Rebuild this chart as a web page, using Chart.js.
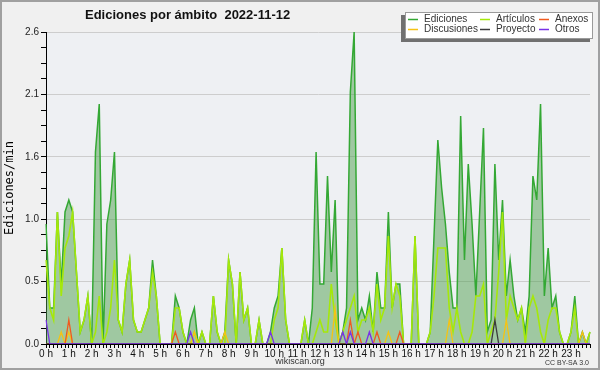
<!DOCTYPE html>
<html>
<head>
<meta charset="utf-8">
<script src="https://cdn.jsdelivr.net/npm/chart.js@4.4.1/dist/chart.umd.min.js"></script>
<style>
  html, body { margin: 0; padding: 0; background: #f0f0f0; }
  canvas { display: block; }
</style>
</head>
<body>
<canvas id="editsChart" width="600" height="370"></canvas>
<script>
// one value every 10 minutes, edits per minute
const hourLabels = ['0 h', '1 h', '2 h', '3 h', '4 h', '5 h', '6 h', '7 h', '8 h', '9 h', '10 h', '11 h',
    '12 h', '13 h', '14 h', '15 h', '16 h', '17 h', '18 h', '19 h', '20 h', '21 h', '22 h', '23 h'];

const ediciones = [
    1.0, 0.3, 0.3, 1.1, 0.5, 1.1,   1.2, 1.1, 0.6, 0.1, 0.2, 0.4,
    0.0, 1.6, 2.0, 0.0, 1.0, 1.2,   1.6, 0.2, 0.1, 0.5, 0.7, 0.2,
    0.1, 0.1, 0.2, 0.3, 0.7, 0.4,   0.0, 0.0, 0.0, 0.0, 0.4, 0.3,
    0.1, 0.0, 0.2, 0.3, 0.0, 0.1,   0.0, 0.0, 0.4, 0.1, 0.0, 0.1,
    0.7, 0.5, 0.0, 0.6, 0.2, 0.3,   0.0, 0.0, 0.2, 0.0, 0.0, 0.1,
    0.3, 0.4, 0.8, 0.2, 0.0, 0.0,   0.0, 0.0, 0.2, 0.0, 0.3, 1.6,
    0.5, 0.5, 1.4, 0.6, 1.2, 0.0,   0.1, 0.3, 2.1, 2.6, 0.2, 0.3,
    0.2, 0.4, 0.1, 0.6, 0.3, 0.3,   1.1, 0.3, 0.5, 0.5, 0.0, 0.0,
    0.0, 0.9, 0.0, 0.0, 0.0, 0.1,   0.9, 1.7, 1.3, 1.0, 0.6, 0.3,
    0.3, 1.9, 0.7, 1.5, 1.0, 0.4,   1.1, 1.8, 0.1, 0.2, 1.5, 0.7,
    1.2, 0.4, 0.7, 0.4, 0.2, 0.3,   0.1, 0.4, 1.4, 1.2, 2.0, 0.4,
    0.8, 0.3, 0.4, 0.1, 0.0, 0.0,   0.1, 0.4, 0.0, 0.1, 0.0, 0.1
];
const articulos = [
    0.7, 0.3, 0.2, 1.1, 0.4, 0.8,   0.9, 1.1, 0.6, 0.1, 0.2, 0.4,
    0.0, 0.1, 0.4, 0.0, 0.1, 0.3,   0.7, 0.2, 0.1, 0.5, 0.7, 0.2,
    0.1, 0.1, 0.2, 0.3, 0.6, 0.4,   0.0, 0.0, 0.0, 0.0, 0.3, 0.3,
    0.1, 0.0, 0.0, 0.1, 0.0, 0.1,   0.0, 0.0, 0.4, 0.1, 0.0, 0.0,
    0.7, 0.5, 0.0, 0.6, 0.2, 0.3,   0.0, 0.0, 0.2, 0.0, 0.0, 0.0,
    0.2, 0.3, 0.8, 0.2, 0.0, 0.0,   0.0, 0.0, 0.2, 0.0, 0.0, 0.1,
    0.2, 0.1, 0.1, 0.5, 0.2, 0.0,   0.1, 0.2, 0.3, 0.4, 0.1, 0.2,
    0.2, 0.3, 0.1, 0.5, 0.2, 0.3,   0.9, 0.3, 0.5, 0.4, 0.0, 0.0,
    0.0, 0.9, 0.0, 0.0, 0.0, 0.1,   0.4, 0.8, 0.8, 0.8, 0.3, 0.1,
    0.3, 0.1, 0.0, 0.0, 0.1, 0.4,   0.4, 0.5, 0.0, 0.1, 0.2, 0.6,
    1.1, 0.2, 0.4, 0.3, 0.2, 0.3,   0.0, 0.3, 0.4, 0.3, 0.1, 0.0,
    0.2, 0.3, 0.3, 0.1, 0.0, 0.0,   0.1, 0.3, 0.0, 0.0, 0.0, 0.1
];
const anexos = [
    0, 0, 0, 0, 0, 0,   0.2, 0, 0, 0, 0, 0,
    0, 0, 0, 0, 0, 0,   0, 0, 0, 0, 0, 0,
    0, 0, 0, 0, 0, 0,   0, 0, 0, 0, 0.1, 0,
    0, 0, 0, 0, 0, 0,   0, 0, 0, 0, 0, 0,
    0, 0, 0, 0, 0, 0,   0, 0, 0, 0, 0, 0,
    0, 0, 0, 0, 0, 0,   0, 0, 0, 0, 0, 0,
    0, 0, 0, 0, 0, 0,   0, 0, 0.2, 0, 0.1, 0,
    0, 0, 0, 0.1, 0, 0,   0, 0, 0, 0.1, 0, 0,
    0, 0, 0, 0, 0, 0,   0, 0, 0, 0, 0, 0,
    0, 0, 0, 0, 0, 0,   0, 0, 0, 0, 0, 0,
    0, 0, 0, 0, 0, 0,   0, 0, 0, 0, 0, 0,
    0, 0, 0, 0, 0, 0,   0, 0, 0, 0, 0, 0
];
const discusiones = [
    0, 0, 0, 0, 0.1, 0,   0.1, 0, 0, 0, 0, 0,
    0, 0, 0, 0, 0, 0,   0, 0, 0, 0, 0, 0,
    0, 0, 0, 0, 0, 0,   0, 0, 0, 0, 0, 0,
    0, 0, 0, 0.1, 0, 0,   0, 0, 0, 0, 0, 0.1,
    0, 0, 0, 0, 0, 0,   0, 0, 0, 0, 0, 0,
    0, 0, 0, 0, 0, 0,   0, 0, 0, 0, 0, 0,
    0, 0, 0, 0, 0.3, 0,   0, 0, 0, 0, 0, 0,
    0, 0, 0, 0, 0, 0,   0.1, 0, 0, 0, 0, 0,
    0, 0, 0, 0, 0, 0,   0, 0, 0, 0, 0.2, 0,
    0, 0, 0, 0, 0, 0,   0, 0, 0, 0, 0, 0,
    0, 0.2, 0, 0, 0, 0,   0, 0, 0, 0, 0, 0,
    0, 0, 0, 0, 0, 0,   0, 0, 0, 0.1, 0, 0
];
const proyecto = [
    0, 0, 0, 0, 0, 0,   0, 0, 0, 0, 0, 0,
    0, 0, 0, 0, 0, 0,   0, 0, 0, 0, 0, 0,
    0, 0, 0, 0, 0, 0,   0, 0, 0, 0, 0, 0,
    0, 0, 0, 0, 0, 0,   0, 0, 0, 0, 0, 0,
    0, 0, 0, 0, 0, 0,   0, 0, 0, 0, 0, 0,
    0, 0, 0, 0, 0, 0,   0, 0, 0, 0, 0, 0,
    0, 0, 0, 0, 0, 0,   0, 0, 0, 0, 0, 0,
    0, 0, 0, 0, 0, 0,   0, 0, 0, 0, 0, 0,
    0, 0, 0, 0, 0, 0,   0, 0, 0, 0, 0, 0,
    0, 0, 0, 0, 0, 0,   0, 0, 0, 0, 0.2, 0,
    0, 0, 0, 0, 0, 0,   0, 0, 0, 0, 0, 0,
    0, 0, 0, 0, 0, 0,   0, 0, 0, 0, 0, 0
];
const otros = [
    0.2, 0, 0, 0, 0, 0,   0, 0, 0, 0, 0, 0,
    0, 0, 0, 0, 0, 0,   0, 0, 0, 0, 0, 0,
    0, 0, 0, 0, 0, 0,   0, 0, 0, 0, 0, 0,
    0, 0, 0.1, 0, 0, 0,   0, 0, 0, 0, 0, 0,
    0, 0, 0, 0, 0, 0,   0, 0, 0, 0, 0, 0.1,
    0, 0, 0, 0, 0, 0,   0, 0, 0, 0, 0, 0,
    0, 0, 0, 0, 0, 0,   0.1, 0, 0.1, 0, 0, 0,
    0, 0.1, 0, 0, 0, 0,   0, 0, 0, 0, 0, 0,
    0, 0, 0, 0, 0, 0,   0, 0, 0, 0, 0, 0,
    0, 0, 0, 0, 0, 0,   0, 0, 0, 0, 0, 0,
    0, 0, 0, 0, 0, 0,   0, 0, 0, 0, 0, 0,
    0, 0, 0, 0, 0, 0,   0, 0, 0, 0, 0, 0
];

// one slot every 10 minutes, labelled on the hour
var slots = ediciones.map((v, i) => i % 6 === 0 ? hourLabels[i / 6] : '');

var sans = 'Liberation Sans, Arial, sans-serif';

var colors = {
    ediciones: 'rgb(52, 168, 52)',
    articulos: 'rgb(165, 232, 10)',
    anexos: 'rgb(240, 90, 30)',
    discusiones: 'rgb(245, 195, 20)',
    proyecto: 'rgb(60, 60, 60)',
    otros: 'rgb(120, 50, 230)',
};

// legend keys in reference order (3 columns, 2 rows)
var legendKeys = [
    ['Ediciones', colors.ediciones], ['Artículos', colors.articulos], ['Anexos', colors.anexos],
    ['Discusiones', colors.discusiones], ['Proyecto', colors.proyecto], ['Otros', colors.otros],
];

// background, title, custom legend, footer and frame
var decor = {
    id: 'decor',
    beforeDraw: function (chart) {
        var ctx = chart.ctx, a = chart.chartArea;
        ctx.save();
        ctx.fillStyle = '#f0f0f0';
        ctx.fillRect(0, 0, chart.width, chart.height);
        ctx.fillStyle = '#eef0f3';
        ctx.fillRect(a.left, a.top, a.right - a.left, a.bottom - a.top);
        ctx.restore();
    },
    afterDraw: function (chart) {
        var ctx = chart.ctx;
        ctx.save();

        ctx.fillStyle = '#111';
        ctx.font = 'bold 13px ' + sans;
        ctx.textAlign = 'left';
        ctx.textBaseline = 'alphabetic';
        ctx.fillText('Ediciones por ámbito  2022-11-12', 85, 18.5);

        // legend box with shadow
        ctx.fillStyle = '#707070';
        ctx.fillRect(401, 15, 189, 27);
        ctx.fillStyle = '#ffffff';
        ctx.fillRect(405, 12, 188, 27);
        ctx.strokeStyle = '#9a9a9a';
        ctx.lineWidth = 1;
        ctx.strokeRect(405.5, 12.5, 187, 26);

        var colX = [408, 480, 539];
        var rowY = [19.5, 29.5];
        ctx.font = '10px ' + sans;
        ctx.textBaseline = 'middle';
        legendKeys.forEach(function (item, k) {
            var x = colX[k % 3], y = rowY[Math.floor(k / 3)];
            ctx.strokeStyle = item[1];
            ctx.lineWidth = 1.5;
            ctx.beginPath();
            ctx.moveTo(x, y);
            ctx.lineTo(x + 10, y);
            ctx.stroke();
            ctx.fillStyle = '#333';
            ctx.fillText(item[0], x + 16, y);
        });

        ctx.textBaseline = 'alphabetic';
        ctx.fillStyle = '#333';
        ctx.font = '9px ' + sans;
        ctx.textAlign = 'center';
        ctx.fillText('wikiscan.org', 300, 364);
        ctx.font = '7px ' + sans;
        ctx.textAlign = 'right';
        ctx.fillText('CC BY-SA 3.0', 589, 364.5);

        ctx.strokeStyle = '#a0a0a0';
        ctx.lineWidth = 2;
        ctx.strokeRect(1, 1, chart.width - 2, chart.height - 2);
        ctx.restore();
    }
};

var ctx = document.getElementById('editsChart').getContext('2d');

new Chart(ctx, {
    type: 'line',
    data: {
        labels: slots,
        datasets: [{
            label: 'Ediciones',
            data: ediciones,
            borderColor: colors.ediciones,
            backgroundColor: 'rgba(80, 160, 80, 0.5)',
            borderWidth: 1.5,
            fill: 'origin',
            order: 6,
        }, {
            label: 'Artículos',
            data: articulos,
            borderColor: colors.articulos,
            borderWidth: 1.6,
            fill: false,
            order: 5,
        }, {
            label: 'Anexos',
            data: anexos,
            borderColor: colors.anexos,
            borderWidth: 1.3,
            fill: false,
            order: 3,
        }, {
            label: 'Discusiones',
            data: discusiones,
            borderColor: colors.discusiones,
            borderWidth: 1.3,
            fill: false,
            order: 4,
        }, {
            label: 'Proyecto',
            data: proyecto,
            borderColor: colors.proyecto,
            borderWidth: 1.3,
            fill: false,
            order: 2,
        }, {
            label: 'Otros',
            data: otros,
            borderColor: colors.otros,
            borderWidth: 1.3,
            fill: false,
            order: 1,
        }],
    },
    options: {
        responsive: false,
        animation: false,
        layout: {
            padding: { top: 32, right: 10, left: 0, bottom: 0 },
        },
        elements: {
            point: { radius: 0, hoverRadius: 0 },
            line: { tension: 0 },
        },
        plugins: {
            legend: { display: false },
            tooltip: { enabled: false },
            title: { display: false },
        },
        scales: {
            x: {
                type: 'category',
                offset: false,
                z: 1,
                ticks: {
                    autoSkip: false,
                    maxRotation: 0,
                    minRotation: 0,
                    padding: 0,
                    color: '#111',
                    font: { family: sans, size: 10 },
                },
                grid: {
                    drawOnChartArea: false,
                    tickLength: 4,
                    color: '#000',
                    tickColor: '#000',
                },
                border: { color: '#000', width: 1 },
                afterFit: function (scale) { scale.height = 26; },
            },
            y: {
                min: 0,
                max: 2.6,
                ticks: {
                    count: 21,
                    autoSkip: false,
                    padding: 2,
                    color: '#222',
                    font: { family: sans, size: 10 },
                    callback: function (value, index) {
                        return index % 4 === 0 ? value.toFixed(1) : '';
                    },
                },
                grid: {
                    color: function (c) {
                        return (c.index % 4 === 0 && c.index > 0) ? '#cdcdcd' : 'rgba(0,0,0,0)';
                    },
                    tickColor: '#000',
                    tickLength: 5,
                },
                border: { color: '#000', width: 1 },
                title: {
                    display: true,
                    text: 'Ediciones/min',
                    color: '#000',
                    font: { family: 'DejaVu Sans Mono', size: 12 },
                    padding: { top: 3, bottom: 0 },
                },
                afterFit: function (scale) { scale.width = 46; },
            },
        },
    },
    plugins: [decor],
});
</script>
</body>
</html>
